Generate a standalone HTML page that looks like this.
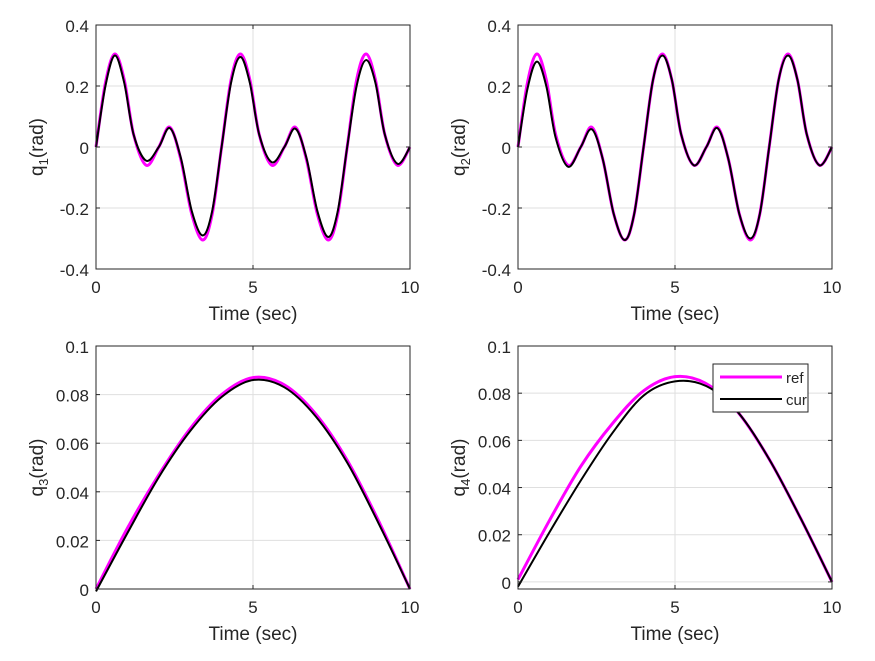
<!DOCTYPE html>
<html><head><meta charset="utf-8"><style>
body{margin:0;background:#fff}
svg text{font-family:"Liberation Sans",Arial,sans-serif;fill:#262626}
</style></head><body>
<svg id="fig" width="875" height="656" viewBox="0 0 875 656" xmlns="http://www.w3.org/2000/svg"></svg>
<script>
// ---- data ----
const tQ12 = [0,0.3,0.6,0.9,1.2,1.6,2.0,2.35,2.7,3.05,3.4,3.7,4.0,4.3,4.6,4.9,5.2,5.6,6.0,6.35,6.7,7.05,7.4,7.7,8.0,8.3,8.6,8.9,9.2,9.6,10];
const q1Ref = [0,0.21,0.305,0.22,0.04,-0.06,0,0.065,-0.04,-0.22,-0.305,-0.22,0,0.22,0.305,0.22,0.04,-0.06,0,0.065,-0.04,-0.22,-0.305,-0.22,0,0.22,0.305,0.22,0.04,-0.06,0];
const q1Cur = [0,0.2,0.3,0.21,0.04,-0.045,0,0.062,-0.035,-0.21,-0.29,-0.21,0,0.21,0.295,0.21,0.04,-0.05,0,0.06,-0.035,-0.21,-0.295,-0.21,0,0.2,0.285,0.21,0.04,-0.055,0];
const q2Ref = [0,0.21,0.305,0.22,0.04,-0.06,0,0.065,-0.04,-0.22,-0.305,-0.22,0,0.22,0.305,0.22,0.04,-0.06,0,0.065,-0.04,-0.22,-0.305,-0.22,0,0.22,0.305,0.22,0.04,-0.06,0];
const q2Cur = [0,0.19,0.28,0.2,0.03,-0.065,0,0.058,-0.04,-0.22,-0.305,-0.22,0,0.22,0.3,0.22,0.04,-0.06,0,0.062,-0.04,-0.22,-0.3,-0.22,0,0.22,0.3,0.22,0.04,-0.06,0];
const tQ34 = [0,1,2,3,4,5,6,7,8,9,10];
const q3Ref = [0,0.025,0.047,0.066,0.080,0.087,0.084,0.072,0.053,0.028,0];
const q3Cur = [-0.001,0.023,0.046,0.065,0.079,0.086,0.083,0.071,0.052,0.027,0];
const q4Ref = [0.001,0.026,0.049,0.067,0.081,0.087,0.084,0.072,0.052,0.027,0];
const q4Cur = [-0.002,0.021,0.043,0.063,0.079,0.085,0.083,0.072,0.052,0.027,0];
const xTicks = [0,5,10];
const yTicksTop = [-0.4,-0.2,0,0.2,0.4];
const yTickLabelsTop = ["-0.4","-0.2","0","0.2","0.4"];
const yTicksBot = [0,0.02,0.04,0.06,0.08,0.1];
const yTickLabelsBot = ["0","0.02","0.04","0.06","0.08","0.1"];

const NS="http://www.w3.org/2000/svg";
const svg=document.getElementById('fig');
function mk(tag,attrs,parent){const e=document.createElementNS(NS,tag);for(const k in attrs)e.setAttribute(k,attrs[k]);(parent||svg).appendChild(e);return e;}

function smoothPath(xs,ys){
  let d=`M${xs[0]},${ys[0]}`;
  for(let i=0;i<xs.length-1;i++){
    const x0=xs[Math.max(i-1,0)],y0=ys[Math.max(i-1,0)];
    const x1=xs[i],y1=ys[i],x2=xs[i+1],y2=ys[i+1];
    const x3=xs[Math.min(i+2,xs.length-1)],y3=ys[Math.min(i+2,xs.length-1)];
    d+=` C${x1+(x2-x0)/6},${y1+(y2-y0)/6} ${x2-(x3-x1)/6},${y2-(y3-y1)/6} ${x2},${y2}`;
  }
  return d;
}

function axes(name,L,T,R,B,ymin,ymax,yt,ytl,sub,tt,ref,cur,legend){
  const g=mk('g',{});
  
  
  const X=v=>L+(v-0)/(10-0)*(R-L);
  const Y=v=>B-(v-ymin)/(ymax-ymin)*(B-T);
  mk('rect',{x:L,y:T,width:R-L,height:B-T,fill:'#fff'},g);
  xTicks.forEach(v=>{const l=mk('line',{x1:X(v),x2:X(v),y1:T,y2:B,stroke:'#dfdfdf','stroke-width':1},g);});
  yt.forEach(v=>{const l=mk('line',{x1:L,x2:R,y1:Y(v),y2:Y(v),stroke:'#dfdfdf','stroke-width':1},g);});
  const pr=mk('path',{d:smoothPath(tt.map(X),ref.map(Y)),fill:'none',stroke:'#ff00ff','stroke-width':3},g);
  
  
  const pc=mk('path',{d:smoothPath(tt.map(X),cur.map(Y)),fill:'none',stroke:'#000','stroke-width':2},g);
  
  
  mk('rect',{x:L,y:T,width:R-L,height:B-T,fill:'none',stroke:'#262626','stroke-width':1},g);
  xTicks.forEach(v=>{
    mk('line',{x1:X(v),x2:X(v),y1:B,y2:B-4,stroke:'#262626'},g);
    mk('line',{x1:X(v),x2:X(v),y1:T,y2:T+4,stroke:'#262626'},g);
    const t=mk('text',{x:X(v),y:B+24,'font-size':17,'text-anchor':'middle'},g);t.textContent=v;
    
    
  });
  yt.forEach((v,i)=>{
    mk('line',{x1:L,x2:L+4,y1:Y(v),y2:Y(v),stroke:'#262626'},g);
    mk('line',{x1:R,x2:R-4,y1:Y(v),y2:Y(v),stroke:'#262626'},g);
    const t=mk('text',{x:L-7,y:Y(v)+7,'font-size':17,'text-anchor':'end'},g);t.textContent=ytl[i];
    
    
  });
  const xl=mk('text',{x:(L+R)/2,y:B+51,'font-size':19,'text-anchor':'middle'},g);xl.textContent='Time (sec)';
  
  
  const cy=(T+B)/2;
  const yl=mk('text',{x:0,y:0,'font-size':19,'text-anchor':'middle',transform:`translate(43,${cy}) rotate(-90)`},g);
  
  
  yl.innerHTML=`q<tspan font-size="13" dy="5">${sub}</tspan><tspan dy="-5">(rad)</tspan>`;
  if(L>400) yl.setAttribute('transform',`translate(465,${cy}) rotate(-90)`);
  if(legend){
    const lg=mk('g',{},g);
    
    
    mk('rect',{x:713,y:364,width:95,height:48,fill:'#fff',stroke:'#262626'},lg);
    mk('line',{x1:720,x2:782,y1:377,y2:377,stroke:'#ff00ff','stroke-width':3},lg);
    mk('line',{x1:720,x2:782,y1:399,y2:399,stroke:'#000','stroke-width':2},lg);
    const a=mk('text',{x:786,y:383,'font-size':15},lg);a.textContent='ref';
    
    
    const b=mk('text',{x:786,y:405,'font-size':15},lg);b.textContent='cur';
    
    
  }
}
axes('q1-axes',96,25,410,269,-0.4,0.4,yTicksTop,yTickLabelsTop,'1',tQ12,q1Ref,q1Cur,false);
axes('q2-axes',518,25,832,269,-0.4,0.4,yTicksTop,yTickLabelsTop,'2',tQ12,q2Ref,q2Cur,false);
axes('q3-axes',96,346,410,589,0,0.1,yTicksBot,yTickLabelsBot,'3',tQ34,q3Ref,q3Cur,false);
axes('q4-axes',518,346,832,589,-0.003,0.1,yTicksBot,yTickLabelsBot,'4',tQ34,q4Ref,q4Cur,true);
</script>
</body></html>
